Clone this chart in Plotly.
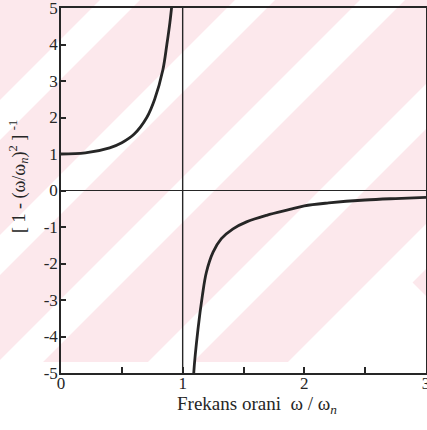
import plotly.graph_objects as go

# ---- data ----
left_x = [0.0, 0.2, 0.4, 0.5, 0.6, 0.705, 0.77, 0.837, 0.87, 0.895, 0.915]
left_y = [1.0, 1.03, 1.17, 1.31, 1.54, 2.0, 2.5, 3.3, 4.0, 4.6, 5.2]

right_x = [1.088, 1.091, 1.126, 1.162, 1.195, 1.25, 1.318, 1.414, 1.525, 1.69, 1.88, 2.0, 2.2, 2.5, 2.75, 3.0]
right_y = [-5.3, -5.0, -3.8, -2.88, -2.24, -1.69, -1.32, -1.05, -0.86, -0.68, -0.52, -0.42, -0.34, -0.26, -0.22, -0.19]

asymptote_x = 1.0
x_range = [0, 3]
y_range = [-5, 5]
x_tickvals = [0, 1, 2, 3]
x_ticktext = ["0", "1", "2", "3"]
x_minor_step = 0.5
y_tickvals = [-5, -4, -3, -2, -1, 0, 1, 2, 3, 4, 5]
y_ticktext = ["-5", "-4", "-3", "-2", "-1", "0", "1", "2", "3", "4", "5"]

x_title = "Frekans orani  ω / ω<sub><i>n</i></sub>"
y_title = "[ 1 - (ω/ω<sub><i>n</i></sub>)<sup>2</sup> ] <sup>-1</sup>"

# ---- layout geometry (pixels) ----
W, H = 427, 430
ML, MR, MT, MB = 61, 1, 8, 57
PW = W - ML - MR
PH = H - MT - MB

def px(x):
    return (x - ML) / PW

def py(y):
    return (H - MB - y) / PH

def path(points):
    return "M " + " L ".join(f"{px(a):.4f},{py(b):.4f}" for a, b in points) + " Z"

PINK = "#fce8ec"
INK = "#262626"
FONT = "Liberation Serif, Times New Roman, serif"

shapes = []
# watermark background
shapes.append(dict(type="path", xref="paper", yref="paper", layer="below",
                   path=path([(0, 0), (W, 0), (W, 362), (0, 362)]),
                   fillcolor=PINK, line=dict(width=0)))
for c1, c2 in [(100, 140), (235, 275), (360, 405), (510, 555), (650, 695)]:
    shapes.append(dict(type="path", xref="paper", yref="paper", layer="below",
                       path=path([(c1 + 50, -50), (c2 + 50, -50), (c2 - 440, 440), (c1 - 440, 440)]),
                       fillcolor="white", line=dict(width=0)))
shapes.append(dict(type="path", xref="paper", yref="paper", layer="below",
                   path=path([(397, 267), (520, 390), (274, 390)]),
                   fillcolor="white", line=dict(width=0)))
shapes.append(dict(type="path", xref="paper", yref="paper", layer="below",
                   path=path([(0, 362), (W, 362), (W, H + 5), (0, H + 5)]),
                   fillcolor="white", line=dict(width=0)))

fig = go.Figure()
fig.add_trace(go.Scatter(x=[asymptote_x, asymptote_x], y=y_range, mode="lines",
                         line=dict(color=INK, width=1.4), hoverinfo="skip", showlegend=False))
fig.add_trace(go.Scatter(x=left_x, y=left_y, mode="lines", line=dict(color=INK, width=2.8, shape="spline"),
                         showlegend=False))
fig.add_trace(go.Scatter(x=right_x, y=right_y, mode="lines", line=dict(color=INK, width=2.8, shape="spline"),
                         showlegend=False))

fig.update_layout(
    width=W, height=H,
    margin=dict(l=ML, r=MR, t=MT, b=MB, autoexpand=False),
    paper_bgcolor="white", plot_bgcolor="rgba(0,0,0,0)",
    font=dict(family=FONT, color=INK, size=17),
    shapes=shapes,
    annotations=[
        dict(text=x_title, xref="paper", yref="paper", x=px(257), y=py(405),
             xanchor="center", yanchor="middle", showarrow=False, font=dict(size=19, family=FONT, color=INK)),
        dict(text=y_title, xref="paper", yref="paper", x=px(18), y=py(177), textangle=-90,
             xanchor="center", yanchor="middle", showarrow=False, font=dict(size=18, family=FONT, color=INK)),
    ],
)
fig.update_xaxes(range=x_range, tickvals=x_tickvals, ticktext=x_ticktext, ticks="inside", ticklen=6,
                 tickwidth=1.5, tickcolor=INK, showline=True, linecolor=INK, linewidth=1.6, mirror=True,
                 minor=dict(dtick=x_minor_step, ticks="inside", ticklen=6, tickwidth=1.5, tickcolor=INK),
                 showgrid=False, zeroline=False, automargin=False, ticklabeloverflow="allow",
                 ticklabelstandoff=-6,
                 tickfont=dict(size=17, family=FONT, color=INK))
fig.update_yaxes(range=y_range, tickvals=y_tickvals, ticktext=y_ticktext, ticks="inside", ticklen=5,
                 tickwidth=1.5, tickcolor=INK, showline=True, linecolor=INK, linewidth=1.6, mirror=True,
                 showgrid=False, zeroline=True, zerolinecolor=INK, zerolinewidth=1.4, automargin=False,
                 ticklabeloverflow="allow", ticklabelstandoff=-2,
                 tickfont=dict(size=17, family=FONT, color=INK))

fig.write_html("out.html", config={"displayModeBar": False},
               post_script="document.body.style.margin='0';document.body.style.overflow='hidden';")
